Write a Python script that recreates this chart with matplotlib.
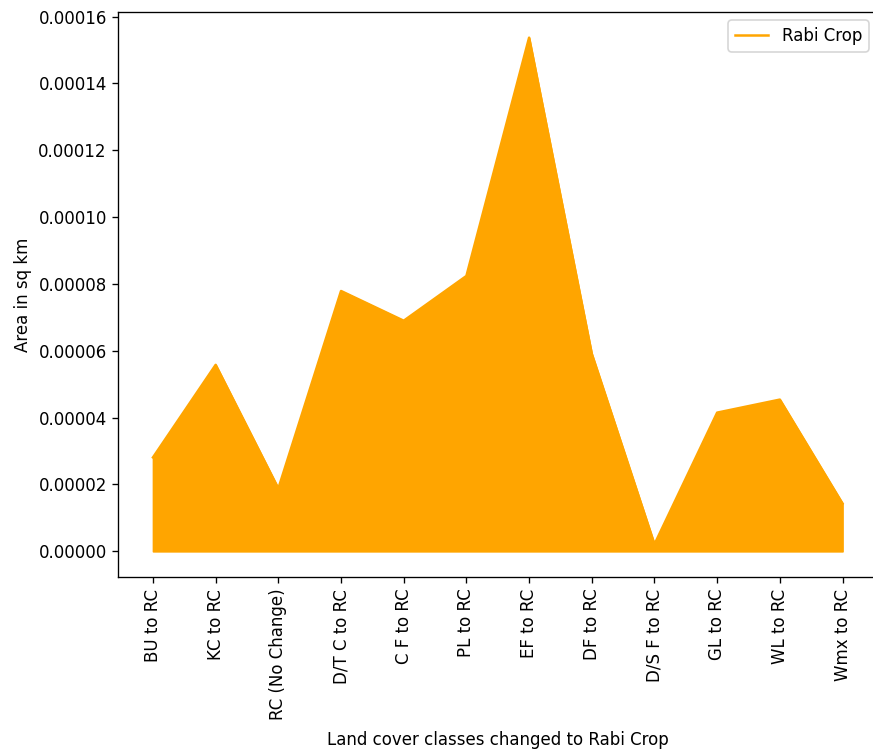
import matplotlib
matplotlib.use("Agg")
import matplotlib.pyplot as plt

categories = ["BU to RC", "KC to RC", "RC (No Change)", "D/T C to RC", "C F to RC",
              "PL to RC", "EF to RC", "DF to RC", "D/S F to RC", "GL to RC",
              "WL to RC", "Wmx to RC"]
values = [2.81e-5, 5.58e-5, 1.88e-5, 7.79e-5, 6.90e-5, 8.24e-5,
          1.537e-4, 5.91e-5, 2.1e-6, 4.15e-5, 4.54e-5, 1.43e-5]

dpi = 120
W, H = 873, 754
fig = plt.figure(figsize=(W/dpi, H/dpi), dpi=dpi)
left, right, top, bottom = 118.5, 877, 12, 577
ax = fig.add_axes([left/W, 1 - bottom/H, (right-left)/W, (bottom-top)/H])
x = list(range(len(categories)))
ax.plot(x, values, color="orange", label="Rabi Crop")
ax.fill_between(x, values, color="orange")
ax.set_xticks(x)
ax.set_xticklabels(categories, rotation=90)
ax.set_ylabel("Area in sq km")
ax.set_xlabel("Land cover classes changed to Rabi Crop", labelpad=6.5)
ax.legend(loc="upper right")
fig.savefig("out.png", dpi=dpi)
